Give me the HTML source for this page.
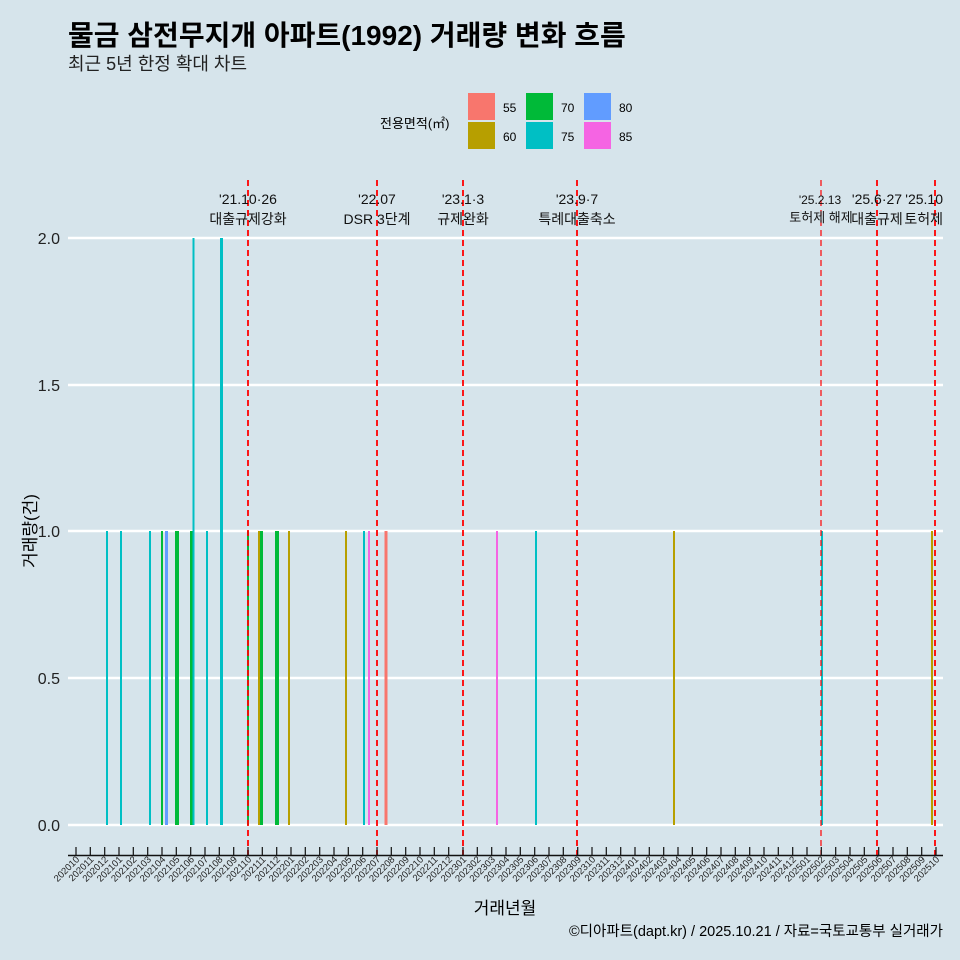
<!DOCTYPE html>
<html><head><meta charset="utf-8"><style>
body{margin:0;background:#d6e4eb;}
svg{display:block;font-family:"Liberation Sans","Noto Sans CJK KR",sans-serif;}
</style></head><body>
<svg width="960" height="960" viewBox="0 0 960 960">
<rect width="960" height="960" fill="#d6e4eb"/>
<text x="68" y="45" font-size="28" font-weight="bold" fill="#000">물금 삼전무지개 아파트(1992) 거래량 변화 흐름</text>
<text x="68" y="70" font-size="18" fill="#222">최근 5년 한정 확대 차트</text>
<!-- legend -->
<text x="380" y="128" font-size="13">전용면적(㎡)</text>
<rect x="468" y="93" width="27" height="27" fill="#F8766D"/><text x="503" y="112" font-size="12">55</text>
<rect x="468" y="122" width="27" height="27" fill="#B79F00"/><text x="503" y="141" font-size="12">60</text>
<rect x="526" y="93" width="27" height="27" fill="#00BA38"/><text x="561" y="112" font-size="12">70</text>
<rect x="526" y="122" width="27" height="27" fill="#00BFC4"/><text x="561" y="141" font-size="12">75</text>
<rect x="584" y="93" width="27" height="27" fill="#619CFF"/><text x="619" y="112" font-size="12">80</text>
<rect x="584" y="122" width="27" height="27" fill="#F564E3"/><text x="619" y="141" font-size="12">85</text>
<!-- grid -->
<g stroke="#fff" stroke-width="2.5">
<line x1="68" x2="943" y1="825" y2="825"/><line x1="68" x2="943" y1="678" y2="678"/>
<line x1="68" x2="943" y1="531" y2="531"/><line x1="68" x2="943" y1="385" y2="385"/>
<line x1="68" x2="943" y1="238" y2="238"/>
</g>
<g font-size="16" fill="#222" text-anchor="end">
<text x="60" y="831">0.0</text><text x="60" y="684">0.5</text><text x="60" y="537">1.0</text><text x="60" y="391">1.5</text><text x="60" y="244">2.0</text>
</g>
<text transform="translate(36,531) rotate(-90)" font-size="17" text-anchor="middle">거래량(건)</text>
<!-- bars -->
<g stroke-width="2">
<line x1="107" x2="107" y1="825" y2="531" stroke="#00BFC4"/>
<line x1="121" x2="121" y1="825" y2="531" stroke="#00BFC4"/>
<line x1="150" x2="150" y1="825" y2="531" stroke="#00BFC4"/>
<line x1="162" x2="162" y1="825" y2="531" stroke="#00BA38"/>
<line x1="166.5" x2="166.5" y1="825" y2="531" stroke="#619CFF" stroke-width="3"/>
<line x1="177" x2="177" y1="825" y2="531" stroke="#00BA38" stroke-width="4"/>
<line x1="191.5" x2="191.5" y1="825" y2="531" stroke="#00BA38" stroke-width="3"/>
<line x1="193.5" x2="193.5" y1="825" y2="238" stroke="#00BFC4"/>
<line x1="207" x2="207" y1="825" y2="531" stroke="#00BFC4"/>
<line x1="221.5" x2="221.5" y1="825" y2="238" stroke="#00BFC4" stroke-width="3"/>
<line x1="248" x2="248" y1="825" y2="531" stroke="#00BA38"/>
<line x1="259" x2="259" y1="825" y2="531" stroke="#B79F00"/>
<line x1="261.5" x2="261.5" y1="825" y2="531" stroke="#00BA38" stroke-width="3"/>
<line x1="277" x2="277" y1="825" y2="531" stroke="#00BA38" stroke-width="4"/>
<line x1="289" x2="289" y1="825" y2="531" stroke="#B79F00"/>
<line x1="346" x2="346" y1="825" y2="531" stroke="#B79F00"/>
<line x1="364" x2="364" y1="825" y2="531" stroke="#00BFC4"/>
<line x1="369" x2="369" y1="825" y2="531" stroke="#F564E3"/>
<line x1="386" x2="386" y1="825" y2="531" stroke="#F8766D" stroke-width="3"/>
<line x1="497" x2="497" y1="825" y2="531" stroke="#F564E3"/>
<line x1="536" x2="536" y1="825" y2="531" stroke="#00BFC4"/>
<line x1="674" x2="674" y1="825" y2="531" stroke="#B79F00"/>
<line x1="822" x2="822" y1="825" y2="531" stroke="#00BFC4"/>
<line x1="932" x2="932" y1="825" y2="531" stroke="#B79F00"/>
</g>
<!-- event lines -->
<g stroke="#ff0000" stroke-width="1.8" stroke-dasharray="6,4">
<line x1="248" x2="248" y1="180" y2="855"/><line x1="377" x2="377" y1="180" y2="855"/>
<line x1="463" x2="463" y1="180" y2="855"/><line x1="577" x2="577" y1="180" y2="855"/>
<line x1="821" x2="821" y1="180" y2="855" stroke-width="1.2" stroke="#f00"/><line x1="877" x2="877" y1="180" y2="855"/>
<line x1="935" x2="935" y1="180" y2="855"/>
</g>
<g font-size="14" fill="#111" text-anchor="middle">
<text x="248" y="204">'21.10·26</text><text x="248" y="224">대출규제강화</text>
<text x="377" y="204">'22.07</text><text x="377" y="224">DSR 3단계</text>
<text x="463" y="204">'23.1·3</text><text x="463" y="224">규제완화</text>
<text x="577" y="204">'23.9·7</text><text x="577" y="224">특례대출축소</text>
<text x="820" y="204" font-size="12">'25.2.13</text><text x="821" y="222" font-size="13">토허제 해제</text>
<text x="877" y="204">'25.6·27</text><text x="877" y="224">대출규제</text>
<text x="943" y="204" text-anchor="end">'25.10</text><text x="943" y="224" text-anchor="end">토허제</text>
</g>
<!-- x axis -->
<line x1="68" x2="943" y1="855.5" y2="855.5" stroke="#111" stroke-width="1.5"/>
<path stroke="#111" stroke-width="1.2" d="M76 847v8M90.3 847v8M104.7 847v8M119 847v8M133.3 847v8M147.7 847v8M162 847v8M176.3 847v8M190.7 847v8M205 847v8M219.3 847v8M233.7 847v8M248 847v8M262.3 847v8M276.7 847v8M291 847v8M305.3 847v8M319.7 847v8M334 847v8M348.3 847v8M362.7 847v8M377 847v8M391.3 847v8M405.7 847v8M420 847v8M434.3 847v8M448.7 847v8M463 847v8M477.3 847v8M491.7 847v8M506 847v8M520.3 847v8M534.7 847v8M549 847v8M563.3 847v8M577.7 847v8M592 847v8M606.3 847v8M620.7 847v8M635 847v8M649.3 847v8M663.7 847v8M678 847v8M692.3 847v8M706.7 847v8M721 847v8M735.3 847v8M749.7 847v8M764 847v8M778.3 847v8M792.7 847v8M807 847v8M821.3 847v8M835.7 847v8M850 847v8M864.3 847v8M878.7 847v8M893 847v8M907.3 847v8M921.7 847v8M936 847v8"/>
<g font-size="9.5" fill="#222" text-anchor="end">
<text transform="translate(80,860) rotate(-45)">202010</text>
<text transform="translate(94.3,860) rotate(-45)">202011</text>
<text transform="translate(108.7,860) rotate(-45)">202012</text>
<text transform="translate(123,860) rotate(-45)">202101</text>
<text transform="translate(137.3,860) rotate(-45)">202102</text>
<text transform="translate(151.7,860) rotate(-45)">202103</text>
<text transform="translate(166,860) rotate(-45)">202104</text>
<text transform="translate(180.3,860) rotate(-45)">202105</text>
<text transform="translate(194.7,860) rotate(-45)">202106</text>
<text transform="translate(209,860) rotate(-45)">202107</text>
<text transform="translate(223.3,860) rotate(-45)">202108</text>
<text transform="translate(237.7,860) rotate(-45)">202109</text>
<text transform="translate(252,860) rotate(-45)">202110</text>
<text transform="translate(266.3,860) rotate(-45)">202111</text>
<text transform="translate(280.7,860) rotate(-45)">202112</text>
<text transform="translate(295,860) rotate(-45)">202201</text>
<text transform="translate(309.3,860) rotate(-45)">202202</text>
<text transform="translate(323.7,860) rotate(-45)">202203</text>
<text transform="translate(338,860) rotate(-45)">202204</text>
<text transform="translate(352.3,860) rotate(-45)">202205</text>
<text transform="translate(366.7,860) rotate(-45)">202206</text>
<text transform="translate(381,860) rotate(-45)">202207</text>
<text transform="translate(395.3,860) rotate(-45)">202208</text>
<text transform="translate(409.7,860) rotate(-45)">202209</text>
<text transform="translate(424,860) rotate(-45)">202210</text>
<text transform="translate(438.3,860) rotate(-45)">202211</text>
<text transform="translate(452.7,860) rotate(-45)">202212</text>
<text transform="translate(467,860) rotate(-45)">202301</text>
<text transform="translate(481.3,860) rotate(-45)">202302</text>
<text transform="translate(495.7,860) rotate(-45)">202303</text>
<text transform="translate(510,860) rotate(-45)">202304</text>
<text transform="translate(524.3,860) rotate(-45)">202305</text>
<text transform="translate(538.7,860) rotate(-45)">202306</text>
<text transform="translate(553,860) rotate(-45)">202307</text>
<text transform="translate(567.3,860) rotate(-45)">202308</text>
<text transform="translate(581.7,860) rotate(-45)">202309</text>
<text transform="translate(596,860) rotate(-45)">202310</text>
<text transform="translate(610.3,860) rotate(-45)">202311</text>
<text transform="translate(624.7,860) rotate(-45)">202312</text>
<text transform="translate(639,860) rotate(-45)">202401</text>
<text transform="translate(653.3,860) rotate(-45)">202402</text>
<text transform="translate(667.7,860) rotate(-45)">202403</text>
<text transform="translate(682,860) rotate(-45)">202404</text>
<text transform="translate(696.3,860) rotate(-45)">202405</text>
<text transform="translate(710.7,860) rotate(-45)">202406</text>
<text transform="translate(725,860) rotate(-45)">202407</text>
<text transform="translate(739.3,860) rotate(-45)">202408</text>
<text transform="translate(753.7,860) rotate(-45)">202409</text>
<text transform="translate(768,860) rotate(-45)">202410</text>
<text transform="translate(782.3,860) rotate(-45)">202411</text>
<text transform="translate(796.7,860) rotate(-45)">202412</text>
<text transform="translate(811,860) rotate(-45)">202501</text>
<text transform="translate(825.3,860) rotate(-45)">202502</text>
<text transform="translate(839.7,860) rotate(-45)">202503</text>
<text transform="translate(854,860) rotate(-45)">202504</text>
<text transform="translate(868.3,860) rotate(-45)">202505</text>
<text transform="translate(882.7,860) rotate(-45)">202506</text>
<text transform="translate(897,860) rotate(-45)">202507</text>
<text transform="translate(911.3,860) rotate(-45)">202508</text>
<text transform="translate(925.7,860) rotate(-45)">202509</text>
<text transform="translate(940,860) rotate(-45)">202510</text>
</g>
<text x="505" y="914" font-size="17" text-anchor="middle">거래년월</text>
<text x="943" y="936" font-size="14.5" text-anchor="end">©디아파트(dapt.kr) / 2025.10.21 / 자료=국토교통부 실거래가</text>
</svg>
</body></html>
